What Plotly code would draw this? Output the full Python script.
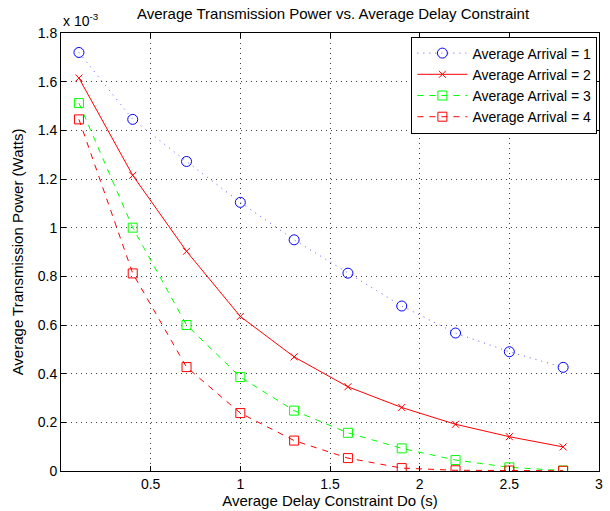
import plotly.graph_objects as go

delay = [0.1, 0.4, 0.7, 1.0, 1.3, 1.6, 1.9, 2.2, 2.5, 2.8]
arrival_1 = [1.72, 1.445, 1.272, 1.104, 0.950, 0.813, 0.678, 0.567, 0.490, 0.426]
arrival_2 = [1.615, 1.215, 0.903, 0.635, 0.469, 0.346, 0.261, 0.192, 0.141, 0.099]
arrival_3 = [1.512, 1.0, 0.600, 0.386, 0.248, 0.157, 0.093, 0.045, 0.015, 0.002]
arrival_4 = [1.445, 0.812, 0.427, 0.238, 0.125, 0.053, 0.012, 0.003, 0.002, 0.001]
names = ["Average Arrival = 1", "Average Arrival = 2", "Average Arrival = 3", "Average Arrival = 4"]
y_ticks = [0, 0.2, 0.4, 0.6, 0.8, 1.0, 1.2, 1.4, 1.6, 1.8]
y_tick_labels = ["0", "0.2", "0.4", "0.6", "0.8", "1", "1.2", "1.4", "1.6", "1.8"]
x_ticks = [0.5, 1, 1.5, 2, 2.5, 3]
x_tick_labels = ["0.5", "1", "1.5", "2", "2.5", "3"]

fig = go.Figure()
fig.add_trace(go.Scatter(x=delay, y=arrival_1, name=names[0], mode="lines+markers",
                         line=dict(color="#5a5aff", width=1, dash="1px,5px"),
                         marker=dict(symbol="circle-open", size=10, color="#0000ff", line=dict(width=1))))
fig.add_trace(go.Scatter(x=delay, y=arrival_2, name=names[1], mode="lines+markers",
                         line=dict(color="#ff0000", width=1),
                         marker=dict(symbol="x-thin-open", size=7, color="#ff0000", line=dict(width=1, color="#ff0000"))))
fig.add_trace(go.Scatter(x=delay, y=arrival_3, name=names[2], mode="lines+markers",
                         line=dict(color="#00ff00", width=1, dash="6px,6px"),
                         marker=dict(symbol="square-open", size=9, color="#00ff00", line=dict(width=1))))
fig.add_trace(go.Scatter(x=delay, y=arrival_4, name=names[3], mode="lines+markers",
                         line=dict(color="#ff0000", width=1, dash="6px,6px"),
                         marker=dict(symbol="square-open", size=9, color="#ff0000", line=dict(width=1))))

axis_common = dict(showline=True, linecolor="black", linewidth=1, mirror="ticks",
                   ticks="inside", ticklen=5, tickcolor="black", automargin=False,
                   showgrid=True, gridcolor="rgba(0,0,0,0.75)", griddash="1px,4px", gridwidth=1,
                   zeroline=False, tickfont=dict(size=14, color="black"))

fig.update_layout(
    width=610, height=511,
    margin=dict(l=61, r=11, t=33, b=40),
    paper_bgcolor="white", plot_bgcolor="white",
    font=dict(family="Liberation Sans, Arial, sans-serif", size=14, color="black"),
    title=dict(text="Average Transmission Power vs. Average Delay Constraint",
               x=0.546, xanchor="center", y=0.973, yanchor="middle", font=dict(size=15)),
    xaxis=dict(range=[0, 3], tickvals=x_ticks, ticktext=x_tick_labels,
               title=dict(text="Average Delay Constraint Do (s)", standoff=0, font=dict(size=15)), **axis_common),
    yaxis=dict(range=[0, 1.8], tickvals=y_ticks, ticktext=y_tick_labels,
               title=dict(text="Average Transmission Power (Watts)", standoff=10, font=dict(size=15)), **axis_common),
    legend=dict(x=0.997, y=0.992, xanchor="right", yanchor="top", bgcolor="white",
                bordercolor="black", borderwidth=1, font=dict(size=14), tracegroupgap=0,
                itemwidth=50),
    showlegend=True,
)
fig.add_annotation(text="x 10<sup>-3</sup>", xref="paper", yref="paper", x=0, y=1.0,
                   xanchor="left", yanchor="bottom", showarrow=False, font=dict(size=14), yshift=2)

fig.write_html("out.html")
